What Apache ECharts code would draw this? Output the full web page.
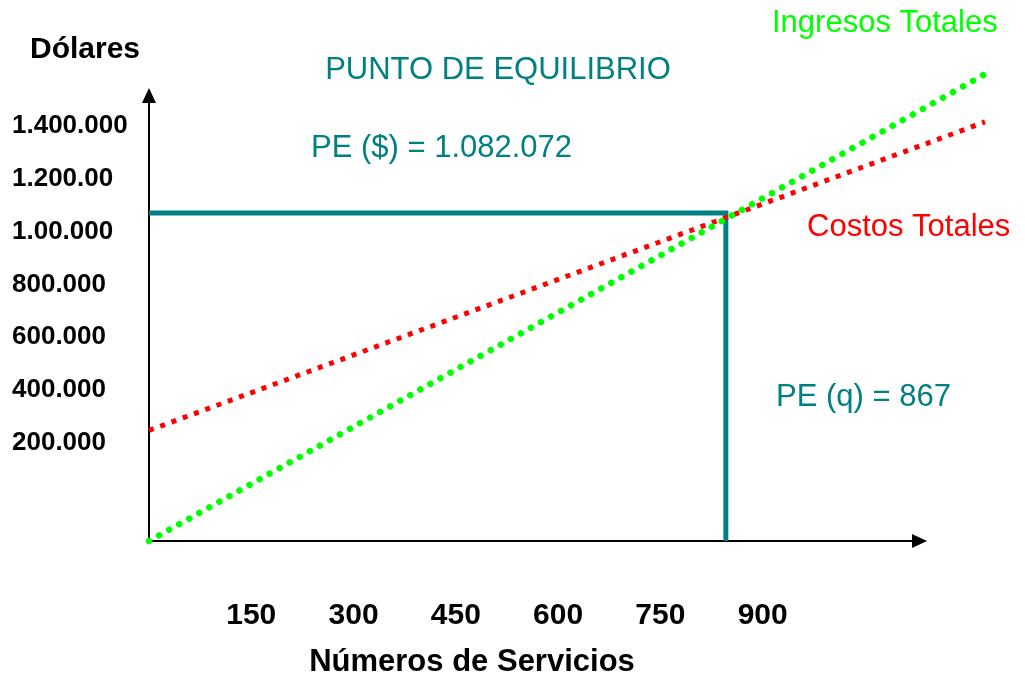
<!DOCTYPE html>
<html>
<head>
<meta charset="utf-8">
<script src="https://cdn.jsdelivr.net/npm/echarts@6/dist/echarts.min.js"></script>
<style>
html,body{margin:0;padding:0;background:#fff;}
#c{width:1025px;height:675px;}
</style>
</head>
<body>
<div id="c"></div>
<script>
// ---- data ----
const ingresosX = [0, 1229];
const ingresosY = [-170000, 1599000];
const costosX = [0, 1226];
const costosY = [248000, 1414000];
const peQ = 846;          // break-even quantity position (as drawn)
const peDolares = 1070000; // break-even revenue position (as drawn)
const axisMinY = -170000;
const axisMaxY = 1514000;
const axisMaxX = 1130;
const xTickValues = [150, 300, 450, 600, 750, 900];
const yTickValues = [200000, 400000, 600000, 800000, 1000000, 1200000, 1400000];
const yTickLabels = ['200.000', '400.000', '600.000', '800.000', '1.00.000', '1.200.00', '1.400.000'];
const titleText = 'PUNTO DE EQUILIBRIO';
const peDolaresText = 'PE ($) = 1.082.072';
const peQText = 'PE (q) = 867';
const ingresosName = 'Ingresos Totales';
const costosName = 'Costos Totales';
const yName = 'Dólares';
const xName = 'Números de Servicios';

// ---- build ----
const FONT = '"Liberation Sans", Arial, sans-serif';
const TEAL = '#008080';
const GREEN = '#00ff00';
const RED = '#ff0000';

const zip = (xs, ys) => xs.map((x, i) => [x, ys[i]]);
const peLine = [[0, peDolares], [peQ, peDolares], [peQ, axisMinY]];

// visible axes grid
const G = {left: 149, right: 105.5, top: 95.5, bottom: 134};
const W = 1025, H = 675;
const gw = W - G.left - G.right, gh = H - G.top - G.bottom;
const sx = gw / axisMaxX;                 // px per unit
const sy = gh / (axisMaxY - axisMinY);    // px per dollar
// wider invisible grid with the same scale so lines can run past the arrows
const maxX2 = 1248, maxY2 = 1648000;
const G2 = {left: G.left, bottom: G.bottom,
  right: W - G.left - maxX2 * sx,
  top: H - G.bottom - (maxY2 - axisMinY) * sy};

const chart = echarts.init(document.getElementById('c'), null, {renderer: 'canvas'});

function txt(text, x, y, color, size, weight, align) {
  return {
    type: 'text', x: x, y: y, silent: true,
    style: {
      text: text, fill: color, font: (weight || 'normal') + ' ' + size + 'px ' + FONT,
      align: align || 'left', verticalAlign: 'middle'
    }
  };
}

const hiddenAxis = {show: false, splitLine: {show: false}};

chart.setOption({
  animation: false,
  backgroundColor: '#ffffff',
  grid: [
    Object.assign({containLabel: false}, G),
    Object.assign({containLabel: false}, G2)
  ],
  xAxis: [{
    type: 'value', gridIndex: 0, min: 0, max: axisMaxX,
    splitLine: {show: false},
    axisTick: {show: false},
    axisLine: {show: true, onZero: false, symbol: ['none', 'triangle'], symbolSize: [14, 15],
      lineStyle: {color: '#000', width: 2}},
    axisLabel: {customValues: xTickValues, margin: 60, fontSize: 30, fontWeight: 'bold',
      fontFamily: FONT, color: '#000'}
  }, Object.assign({type: 'value', gridIndex: 1, min: 0, max: maxX2}, hiddenAxis)],
  yAxis: [{
    type: 'value', gridIndex: 0, min: axisMinY, max: axisMaxY,
    splitLine: {show: false},
    axisTick: {show: false},
    axisLine: {show: true, onZero: false, symbol: ['none', 'triangle'], symbolSize: [14, 15],
      lineStyle: {color: '#000', width: 2}},
    axisLabel: {customValues: yTickValues, margin: 137, align: 'left', fontSize: 26,
      fontWeight: 'bold', fontFamily: FONT, color: '#000',
      formatter: function (v) { const i = yTickValues.indexOf(v); return i >= 0 ? yTickLabels[i] : ''; }}
  }, Object.assign({type: 'value', gridIndex: 1, min: axisMinY, max: maxY2}, hiddenAxis)],
  series: [
    {type: 'line', xAxisIndex: 0, yAxisIndex: 0, data: peLine, showSymbol: false, z: 2,
      lineStyle: {color: TEAL, width: 5, join: 'miter', cap: 'butt'}},
    {type: 'line', xAxisIndex: 1, yAxisIndex: 1, data: zip(costosX, costosY), showSymbol: false, clip: false, z: 3,
      lineStyle: {color: RED, width: 5, type: [5, 7]}},
    {type: 'line', xAxisIndex: 1, yAxisIndex: 1, data: zip(ingresosX, ingresosY), showSymbol: false, clip: false, z: 4,
      lineStyle: {color: GREEN, width: 6.5, type: [0.01, 11.5], cap: 'round'}}
  ],
  graphic: [
    txt(yName, 30, 49.5, '#000', 30, 'bold'),
    txt(titleText, 498, 70, TEAL, 31, 'normal', 'center'),
    txt(peDolaresText, 311, 148.5, TEAL, 31),
    txt(peQText, 776, 397, TEAL, 31),
    txt(ingresosName, 772, 23, GREEN, 31),
    txt(costosName, 807, 227.5, RED, 31),
    txt(xName, 472, 662, '#000', 31, 'bold', 'center')
  ]
});
</script>
</body>
</html>
